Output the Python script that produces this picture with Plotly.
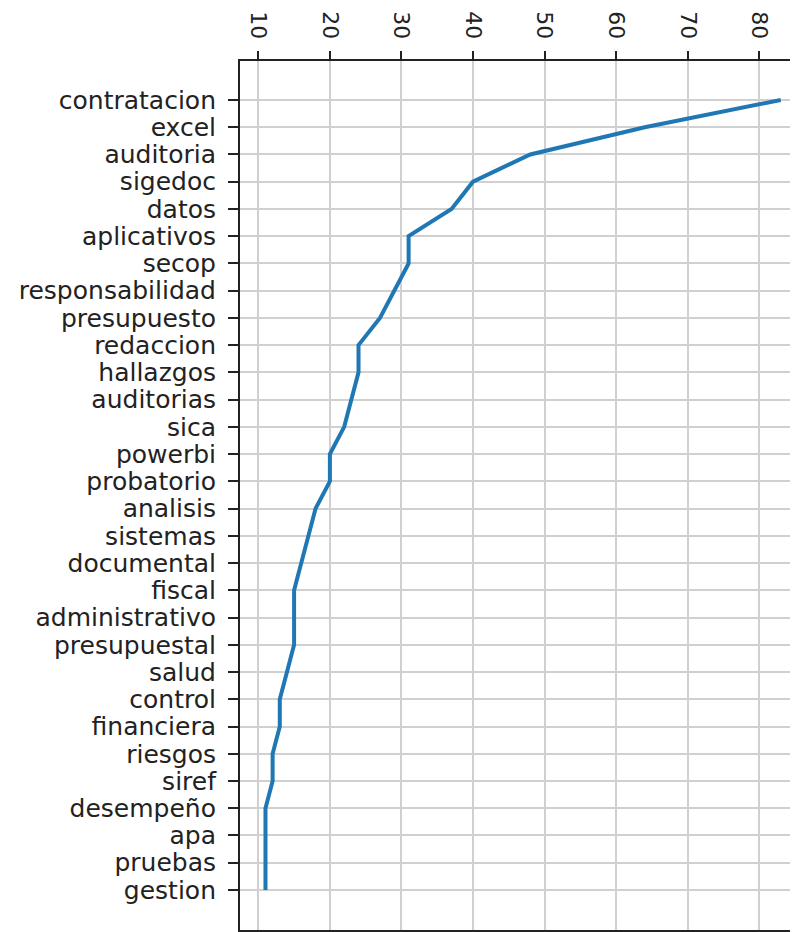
import plotly.graph_objects as go

terms = ["contratacion", "excel", "auditoria", "sigedoc", "datos", "aplicativos",
         "secop", "responsabilidad", "presupuesto", "redaccion", "hallazgos",
         "auditorias", "sica", "powerbi", "probatorio", "analisis", "sistemas",
         "documental", "fiscal", "administrativo", "presupuestal", "salud",
         "control", "financiera", "riesgos", "siref", "desempeño", "apa",
         "pruebas", "gestion"]
counts = [83, 64, 48, 40, 37, 31, 31, 29, 27, 24, 24, 23, 22, 20, 20, 18, 17,
          16, 15, 15, 15, 14, 13, 13, 12, 12, 11, 11, 11, 11]
x_ticks = [10, 20, 30, 40, 50, 60, 70, 80]

fig = go.Figure()
fig.add_trace(go.Scatter(
    x=counts, y=terms, mode="lines",
    line=dict(color="#1f77b4", width=4),
    hoverinfo="skip", showlegend=False,
))

font = dict(family="DejaVu Sans", size=25, color="#222222")

# page body has an 8px default margin, so the figure is sized to fit the window
fig.update_layout(
    width=790, height=924,
    margin=dict(l=232, r=0, t=53, b=2),
    paper_bgcolor="white", plot_bgcolor="white",
    font=font,
    xaxis=dict(
        side="top", range=[7.44, 85.41], automargin=False,
        tickmode="array", tickvals=x_ticks, ticktext=[str(v) for v in x_ticks],
        tickangle=90, ticks="outside", ticklen=8, tickwidth=1.8, tickcolor="#222222",
        showline=True, linecolor="#222222", linewidth=2, mirror=True,
        showgrid=True, gridcolor="#d0d0d0", gridwidth=2,
        zeroline=False, tickfont=dict(family="DejaVu Sans", size=22, color="#222222"),
        ticklabelstandoff=4,
    ),
    yaxis=dict(
        type="category", categoryorder="array", categoryarray=terms,
        range=[30.47, -1.43], automargin=False,
        tickmode="array", tickvals=terms, ticktext=terms,
        ticks="outside", ticklen=10, tickwidth=1.8, tickcolor="#222222",
        showline=True, linecolor="#222222", linewidth=2, mirror=False,
        showgrid=True, gridcolor="#d0d0d0", gridwidth=2,
        zeroline=False, tickfont=font,
        ticklabelstandoff=7,
    ),
)

fig.write_html("out.html")
